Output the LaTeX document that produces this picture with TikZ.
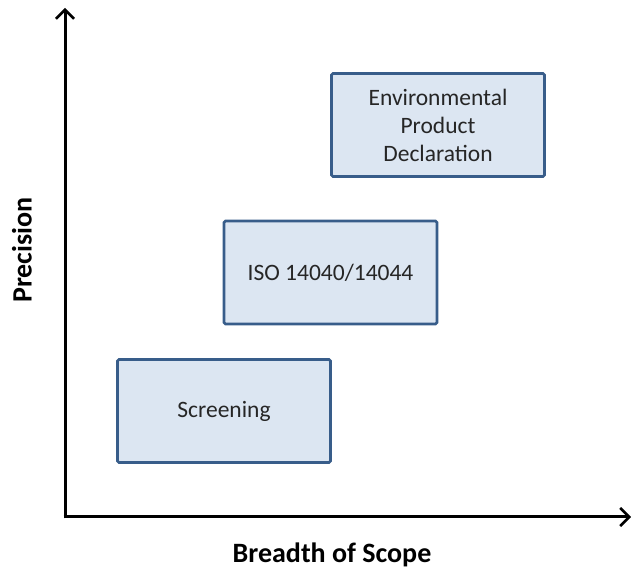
\documentclass[tikz,border=0pt]{standalone}
\usepackage{fontspec}
\setmainfont{Carlito}
\usetikzlibrary{arrows.meta}
\definecolor{boxfill}{HTML}{DCE6F2}
\definecolor{boxline}{HTML}{385D8A}
\definecolor{txt}{HTML}{262626}
\begin{document}
\begin{tikzpicture}[x=1pt,y=1pt,
  axis/.style={line width=3pt,-{Straight Barb[length=9pt,width=18pt,line width=2.6pt]}},
  level/.style={draw=boxline,fill=boxfill,line width=2.6pt,rounded corners=1.5pt,
    minimum width=213pt,minimum height=103pt,inner sep=0pt,text=txt,align=center,
    font=\fontsize{23.5}{28}\selectfont},
  axlabel/.style={font=\bfseries\fontsize{28}{32}\selectfont}]
\useasboundingbox (0,0) rectangle (631,569);
% axes
\coordinate (origin) at (65,52);
\coordinate (ytip) at (65,561);
\coordinate (xtip) at (631,52);
\draw[axis] ([yshift=-1.5pt]origin) -- (ytip);
\draw[axis] ([xshift=-1.5pt]origin) -- (xtip);
% methods, ordered by precision and scope
\node[level] (scr) at (224,158) {\raisebox{-2pt}{Screening}};
\node[level] (iso) at (330.5,296.5) {\raisebox{-2pt}{ISO 14040/14044}};
\node[level] (epd) at (438,444) {Environmental\\Product\\Declaration};
% axis labels
\node[axlabel,rotate=90] (prec) at (22,319) {Precision};
\node[axlabel] (scope) at (332,14) {Breadth of Scope};
\end{tikzpicture}
\end{document}
